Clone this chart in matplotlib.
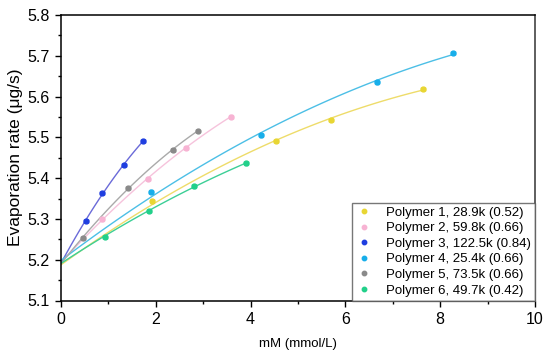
import numpy as np
import matplotlib
matplotlib.use("Agg")
import matplotlib.pyplot as plt
from matplotlib.ticker import MultipleLocator

plt.rcParams['font.family'] = ['Liberation Sans', 'DejaVu Sans']

labels = ["Polymer 1, 28.9k (0.52)", "Polymer 2, 59.8k (0.66)", "Polymer 3, 122.5k (0.84)",
          "Polymer 4, 25.4k (0.66)", "Polymer 5, 73.5k (0.66)", "Polymer 6, 49.7k (0.42)"]
colors = ["#e8d633", "#f7b3d3", "#1f3ee0", "#17aeea", "#8a8a8a", "#22d08a"]
line_colors = ["#eedc6a", "#f6c3dc", "#6a6ad8", "#4cbfe6", "#aaaaaa", "#3ccf96"]

p1_x = [1.93, 4.54, 5.69, 7.64]
p1_y = [5.343, 5.491, 5.542, 5.619]
p2_x = [0.86, 1.84, 2.64, 3.58]
p2_y = [5.299, 5.399, 5.475, 5.551]
p3_x = [0.53, 0.86, 1.33, 1.73]
p3_y = [5.295, 5.363, 5.432, 5.491]
p4_x = [1.90, 4.22, 6.66, 8.27]
p4_y = [5.367, 5.505, 5.635, 5.707]
p5_x = [0.47, 1.41, 2.36, 2.88]
p5_y = [5.253, 5.376, 5.469, 5.516]
p6_x = [0.92, 1.85, 2.80, 3.90]
p6_y = [5.256, 5.320, 5.380, 5.436]
base_rate = [5.184, 5.192, 5.192, 5.192, 5.192, 5.192]

xs = [p1_x, p2_x, p3_x, p4_x, p5_x, p6_x]
ys = [p1_y, p2_y, p3_y, p4_y, p5_y, p6_y]

fig = plt.figure(figsize=(5.5, 3.6), dpi=100)
ax = fig.add_axes([61/550, 1-300.5/360, (535-61)/550, (300.5-15)/360])

handles = []
for i in range(6):
    x = np.array([0.0] + xs[i])
    y = np.array([base_rate[i]] + ys[i])
    coef = np.polyfit(x, y, 2)
    xf = np.linspace(0, max(xs[i]), 100)
    ax.plot(xf, np.polyval(coef, xf), color=line_colors[i], lw=1.0, zorder=2)
    ax.errorbar(xs[i], ys[i], yerr=0.003, xerr=0.04, fmt='o', ms=3.5, color=colors[i],
                ecolor=colors[i], elinewidth=0.8, capsize=1.5, zorder=3)
    h, = ax.plot([], [], 'o', ms=3.2, color=colors[i], label=labels[i])
    handles.append(h)

ax.set_xlim(0, 10)
ax.set_ylim(5.1, 5.8)
ax.xaxis.set_major_locator(MultipleLocator(2))
ax.xaxis.set_minor_locator(MultipleLocator(1))
ax.yaxis.set_major_locator(MultipleLocator(0.1))
ax.yaxis.set_minor_locator(MultipleLocator(0.05))
ax.tick_params(which='both', direction='out', labelsize=11.5, width=1)
ax.tick_params(which='major', length=4, pad=4)
ax.tick_params(which='minor', length=2.5)
for s in ax.spines.values():
    s.set_linewidth(1.1)
    s.set_color('black')
ax.spines['right'].set_color('#333333')

ax.set_xlabel("mM (mmol/L)", fontsize=9.5, labelpad=8)
ax.set_ylabel("Evaporation rate (μg/s)", fontsize=12.5, labelpad=3)

leg = ax.legend(handles=handles, loc='lower right', fontsize=9.5, frameon=True, fancybox=False,
                borderaxespad=0, handlelength=1.2, handletextpad=1.1, labelspacing=0.25,
                borderpad=0.3, markerscale=1.0)
leg.get_frame().set_edgecolor('#555555')
leg.get_frame().set_linewidth(1.0)

fig.savefig("out.png", dpi=100)
